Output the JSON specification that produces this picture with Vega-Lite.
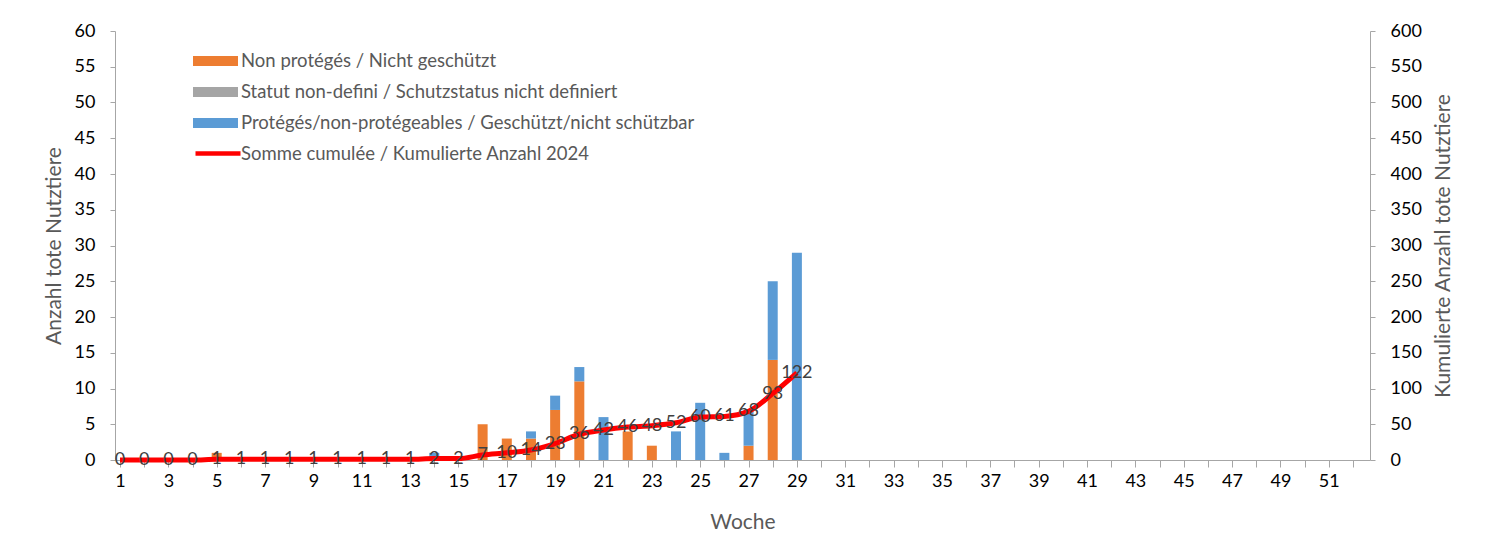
{
  "$schema": "https://vega.github.io/schema/vega-lite/v6.json",
  "width": 1255,
  "height": 429,
  "autosize": {"type": "none"},
  "padding": {"left": 115, "top": 31, "right": 136, "bottom": 96},
  "background": "white",
  "config": {
    "font": "Lato",
    "view": {"stroke": null},
    "axis": {
      "grid": false,
      "domainColor": "#a6a6a6",
      "tickColor": "#a6a6a6",
      "labelColor": "#000000",
      "labelFontSize": 18,
      "titleColor": "#595959",
      "titleFontSize": 21,
      "titleFontWeight": "normal"
    },
    "legend": {
      "padding": 0,
      "labelFontSize": 18.5,
      "labelColor": "#595959",
      "labelLimit": 800
    }
  },
  "datasets": {
    "bars": [
      {"week": 5, "status": "Non protégés / Nicht geschützt", "count": 1},
      {"week": 14, "status": "Protégés/non-protégeables / Geschützt/nicht schützbar", "count": 1},
      {"week": 16, "status": "Non protégés / Nicht geschützt", "count": 5},
      {"week": 17, "status": "Non protégés / Nicht geschützt", "count": 3},
      {"week": 18, "status": "Non protégés / Nicht geschützt", "count": 3},
      {"week": 18, "status": "Protégés/non-protégeables / Geschützt/nicht schützbar", "count": 1},
      {"week": 19, "status": "Non protégés / Nicht geschützt", "count": 7},
      {"week": 19, "status": "Protégés/non-protégeables / Geschützt/nicht schützbar", "count": 2},
      {"week": 20, "status": "Non protégés / Nicht geschützt", "count": 11},
      {"week": 20, "status": "Protégés/non-protégeables / Geschützt/nicht schützbar", "count": 2},
      {"week": 21, "status": "Protégés/non-protégeables / Geschützt/nicht schützbar", "count": 6},
      {"week": 22, "status": "Non protégés / Nicht geschützt", "count": 4},
      {"week": 23, "status": "Non protégés / Nicht geschützt", "count": 2},
      {"week": 24, "status": "Protégés/non-protégeables / Geschützt/nicht schützbar", "count": 4},
      {"week": 25, "status": "Protégés/non-protégeables / Geschützt/nicht schützbar", "count": 8},
      {"week": 26, "status": "Protégés/non-protégeables / Geschützt/nicht schützbar", "count": 1},
      {"week": 27, "status": "Non protégés / Nicht geschützt", "count": 2},
      {"week": 27, "status": "Protégés/non-protégeables / Geschützt/nicht schützbar", "count": 5},
      {"week": 28, "status": "Non protégés / Nicht geschützt", "count": 14},
      {"week": 28, "status": "Protégés/non-protégeables / Geschützt/nicht schützbar", "count": 11},
      {"week": 29, "status": "Protégés/non-protégeables / Geschützt/nicht schützbar", "count": 29}
    ],
    "cum": [
      {"week": 1, "cum": 0, "serie": "Somme cumulée / Kumulierte Anzahl 2024"},
      {"week": 2, "cum": 0, "serie": "Somme cumulée / Kumulierte Anzahl 2024"},
      {"week": 3, "cum": 0, "serie": "Somme cumulée / Kumulierte Anzahl 2024"},
      {"week": 4, "cum": 0, "serie": "Somme cumulée / Kumulierte Anzahl 2024"},
      {"week": 5, "cum": 1, "serie": "Somme cumulée / Kumulierte Anzahl 2024"},
      {"week": 6, "cum": 1, "serie": "Somme cumulée / Kumulierte Anzahl 2024"},
      {"week": 7, "cum": 1, "serie": "Somme cumulée / Kumulierte Anzahl 2024"},
      {"week": 8, "cum": 1, "serie": "Somme cumulée / Kumulierte Anzahl 2024"},
      {"week": 9, "cum": 1, "serie": "Somme cumulée / Kumulierte Anzahl 2024"},
      {"week": 10, "cum": 1, "serie": "Somme cumulée / Kumulierte Anzahl 2024"},
      {"week": 11, "cum": 1, "serie": "Somme cumulée / Kumulierte Anzahl 2024"},
      {"week": 12, "cum": 1, "serie": "Somme cumulée / Kumulierte Anzahl 2024"},
      {"week": 13, "cum": 1, "serie": "Somme cumulée / Kumulierte Anzahl 2024"},
      {"week": 14, "cum": 2, "serie": "Somme cumulée / Kumulierte Anzahl 2024"},
      {"week": 15, "cum": 2, "serie": "Somme cumulée / Kumulierte Anzahl 2024"},
      {"week": 16, "cum": 7, "serie": "Somme cumulée / Kumulierte Anzahl 2024"},
      {"week": 17, "cum": 10, "serie": "Somme cumulée / Kumulierte Anzahl 2024"},
      {"week": 18, "cum": 14, "serie": "Somme cumulée / Kumulierte Anzahl 2024"},
      {"week": 19, "cum": 23, "serie": "Somme cumulée / Kumulierte Anzahl 2024"},
      {"week": 20, "cum": 36, "serie": "Somme cumulée / Kumulierte Anzahl 2024"},
      {"week": 21, "cum": 42, "serie": "Somme cumulée / Kumulierte Anzahl 2024"},
      {"week": 22, "cum": 46, "serie": "Somme cumulée / Kumulierte Anzahl 2024"},
      {"week": 23, "cum": 48, "serie": "Somme cumulée / Kumulierte Anzahl 2024"},
      {"week": 24, "cum": 52, "serie": "Somme cumulée / Kumulierte Anzahl 2024"},
      {"week": 25, "cum": 60, "serie": "Somme cumulée / Kumulierte Anzahl 2024"},
      {"week": 26, "cum": 61, "serie": "Somme cumulée / Kumulierte Anzahl 2024"},
      {"week": 27, "cum": 68, "serie": "Somme cumulée / Kumulierte Anzahl 2024"},
      {"week": 28, "cum": 93, "serie": "Somme cumulée / Kumulierte Anzahl 2024"},
      {"week": 29, "cum": 122, "serie": "Somme cumulée / Kumulierte Anzahl 2024"}
    ]
  },
  "encoding": {
    "x": {
      "field": "week",
      "type": "quantitative",
      "scale": {"domain": [1, 52.5], "nice": false, "zero": false},
      "axis": {
        "title": "Woche",
        "values": [1,2,3,4,5,6,7,8,9,10,11,12,13,14,15,16,17,18,19,20,21,22,23,24,25,26,27,28,29,30,31,32,33,34,35,36,37,38,39,40,41,42,43,44,45,46,47,48,49,50,51,52],
        "labelExpr": "datum.value % 2 == 1 ? datum.label : ''",
        "labelFlush": false,
        "labelOverlap": false,
        "tickSize": 7,
        "labelPadding": 5,
        "titlePadding": 21
      }
    }
  },
  "layer": [
    {
      "data": {"name": "bars"},
      "mark": {"type": "bar", "width": 10},
      "encoding": {
        "y": {
          "field": "count",
          "type": "quantitative",
          "stack": "zero",
          "scale": {"domain": [0, 60], "nice": false},
          "axis": {
            "title": "Anzahl  tote Nutztiere",
            "values": [0,5,10,15,20,25,30,35,40,45,50,55,60],
            "tickSize": 5,
            "labelPadding": 15,
            "titlePadding": 10
          }
        },
        "order": {"field": "status", "type": "ordinal", "sort": "ascending"},
        "fill": {
          "field": "status",
          "type": "nominal",
          "scale": {
            "domain": ["Non protégés / Nicht geschützt", "Statut non-defini / Schutzstatus nicht definiert", "Protégés/non-protégeables / Geschützt/nicht schützbar"],
            "range": ["#ED7D31", "#A5A5A5", "#5B9BD5"]
          },
          "legend": {
            "title": null,
            "orient": "none",
            "legendX": 88,
            "legendY": 17.5,
            "direction": "vertical",
            "symbolType": "M-1.8,-0.4H1.8V0.4H-1.8Z",
            "symbolSize": 625,
            "symbolStrokeWidth": 0,
            "symbolOpacity": 1,
            "labelOffset": 13,
            "rowPadding": 9
          }
        }
      }
    },
    {
      "data": {"name": "cum"},
      "encoding": {
        "y": {
          "field": "cum",
          "type": "quantitative",
          "scale": {"domain": [0, 600], "nice": false},
          "axis": {
            "orient": "right",
            "title": "Kumulierte Anzahl tote Nutztiere",
            "values": [0,50,100,150,200,250,300,350,400,450,500,550,600],
            "tickSize": 5,
            "labelPadding": 15,
            "titlePadding": 32,
            "titleAngle": -90
          }
        }
      },
      "layer": [
        {
          "mark": {"type": "line", "interpolate": "monotone", "strokeWidth": 5},
          "encoding": {
            "stroke": {
              "field": "serie",
              "type": "nominal",
              "scale": {"range": ["#FF0000"]},
              "legend": {
                "title": null,
                "orient": "none",
                "legendX": 88,
                "legendY": 107.5,
                "symbolType": "M-1.8,0H1.8",
                "symbolSize": 625,
                "symbolStrokeWidth": 4.5,
                "labelOffset": 8
              }
            }
          }
        },
        {
          "mark": {"type": "text", "fontSize": 18, "color": "#404040", "align": "center", "baseline": "middle"},
          "encoding": {
            "text": {"field": "cum", "type": "quantitative"}
          }
        }
      ]
    }
  ],
  "resolve": {"scale": {"y": "independent"}}
}
